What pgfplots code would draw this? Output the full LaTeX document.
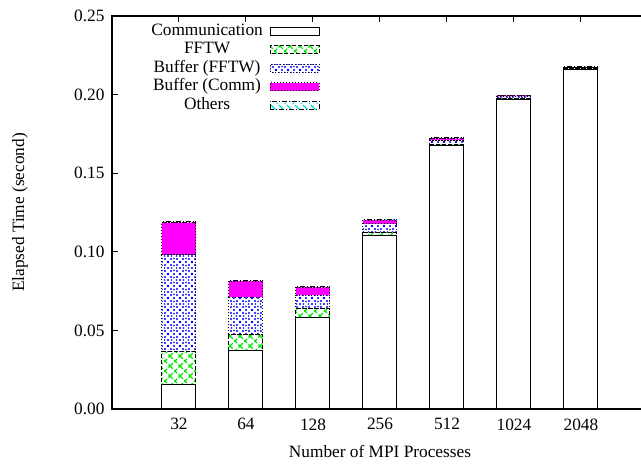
\documentclass[border=0pt]{standalone}
\usepackage{fontspec}
\setmainfont{Liberation Serif}
\usepackage{pgfplots}
\pgfplotsset{compat=1.18}
\usetikzlibrary{patterns}

\pgfdeclarepatternformonly{bigx}{\pgfqpoint{-1pt}{-1pt}}{\pgfqpoint{11pt}{11pt}}{\pgfqpoint{10pt}{10pt}}{%
  \pgfsetlinewidth{1.2pt}%
  \pgfpathmoveto{\pgfqpoint{0pt}{0pt}}\pgfpathlineto{\pgfqpoint{10pt}{10pt}}%
  \pgfpathmoveto{\pgfqpoint{0pt}{10pt}}\pgfpathlineto{\pgfqpoint{10pt}{0pt}}%
  \pgfusepath{stroke}}

\pgfdeclarepatternformonly{bluediamond}{\pgfqpoint{-1.5pt}{-1.5pt}}{\pgfqpoint{13.5pt}{13.5pt}}{\pgfqpoint{12pt}{12pt}}{%
  \pgfpathcircle{\pgfqpoint{0pt}{0pt}}{1.1pt}%
  \pgfpathcircle{\pgfqpoint{3pt}{3pt}}{1.1pt}%
  \pgfpathcircle{\pgfqpoint{9pt}{9pt}}{1.1pt}%
  \pgfpathcircle{\pgfqpoint{12pt}{12pt}}{1.1pt}%
  \pgfpathcircle{\pgfqpoint{0pt}{12pt}}{1.1pt}%
  \pgfpathcircle{\pgfqpoint{3pt}{9pt}}{1.1pt}%
  \pgfpathcircle{\pgfqpoint{9pt}{3pt}}{1.1pt}%
  \pgfpathcircle{\pgfqpoint{12pt}{0pt}}{1.1pt}%
  \pgfpathcircle{\pgfqpoint{6pt}{0pt}}{0.8pt}%
  \pgfpathcircle{\pgfqpoint{0pt}{6pt}}{0.8pt}%
  \pgfpathcircle{\pgfqpoint{12pt}{6pt}}{0.8pt}%
  \pgfpathcircle{\pgfqpoint{6pt}{12pt}}{0.8pt}%
  \pgfpathcircle{\pgfqpoint{6pt}{8.5pt}}{0.9pt}%
  \pgfpathcircle{\pgfqpoint{6pt}{3.5pt}}{0.9pt}%
  \pgfpathcircle{\pgfqpoint{3.5pt}{6pt}}{0.9pt}%
  \pgfpathcircle{\pgfqpoint{8.5pt}{6pt}}{0.9pt}%
  \pgfusepath{fill}}

\pgfdeclarepatternformonly{nwl}{\pgfqpoint{-1pt}{-1pt}}{\pgfqpoint{9pt}{9pt}}{\pgfqpoint{8pt}{8pt}}{%
  \pgfsetlinewidth{1.2pt}%
  \pgfpathmoveto{\pgfqpoint{0pt}{8pt}}\pgfpathlineto{\pgfqpoint{8pt}{0pt}}%
  \pgfusepath{stroke}}

\definecolor{mgreen}{RGB}{0,230,0}
\definecolor{mblue}{RGB}{0,0,255}
\definecolor{mmag}{RGB}{255,0,255}
\definecolor{mcyan}{RGB}{0,220,220}

\pgfplotsset{mylegend/.style={legend image code/.code={\draw[##1] (0pt,-4pt) rectangle (49pt,4pt);}}}

\begin{document}
\begin{tikzpicture}
\begin{axis}[name=ax, at={(0,0)}, anchor=south west,
  scale only axis, width=536pt, height=393pt,
  xmin=0, xmax=8, ymin=0, ymax=0.25,
  ybar stacked, bar width=34pt,
  xtick={1,2,3,4,5,6,7},
  xticklabels={32,64,128,256,512,1024,2048},
  ytick={0,0.05,0.1,0.15,0.2,0.25},
  yticklabel style={/pgf/number format/fixed, /pgf/number format/fixed zerofill, /pgf/number format/precision=2},
  /pgf/number format/assume math mode=true,
  xticklabel style={yshift=-6pt},
  yticklabel style={xshift=-4pt},
  tick align=inside, major tick length=6pt,
  tick style={black, line width=1pt},
  axis line style={line width=1.3pt},
  font=\fontsize{17.3}{20}\selectfont,
  xlabel={Number of MPI Processes},
  ylabel={Elapsed Time (second)},
  every axis x label/.style={at={(axis description cs:0.5,0)}, anchor=center, yshift=-42pt},
  every axis y label/.style={at={(axis description cs:-0.1716,0.5)}, anchor=center, rotate=90},
  legend plot pos=right,
  legend style={draw=none, fill=none, at={(axis description cs:0.3937,0.99)}, anchor=north east,
    font=\fontsize{17.3}{20}\selectfont, cells={anchor=center}, row sep=0pt, column sep=6pt,
    nodes={inner sep=1pt, text height=12pt, text depth=4.5pt}},
]
\addplot[mylegend, fill=white, draw=black, line width=1pt] coordinates
  {(1,0.0157) (2,0.0369) (3,0.0583) (4,0.1102) (5,0.1675) (6,0.1970) (7,0.2158)};
\addplot[mylegend, draw=black, line width=1pt, dash pattern=on 4pt off 2pt, pattern=bigx, pattern color=mgreen] coordinates
  {(1,0.0206) (2,0.0102) (3,0.0055) (4,0.0022) (5,0.0010) (6,0.0007) (7,0.0005)};
\addplot[mylegend, draw=black, line width=1pt, dash pattern=on 1pt off 2pt, pattern=bluediamond, pattern color=mblue] coordinates
  {(1,0.0617) (2,0.0240) (3,0.0087) (4,0.0053) (5,0.0025) (6,0.0012) (7,0.0009)};
\addplot[mylegend, draw=black, line width=1pt, dash pattern=on 1pt off 2pt, fill=mmag] coordinates
  {(1,0.0205) (2,0.0103) (3,0.0049) (4,0.0025) (5,0.0010) (6,0.0005) (7,0.0003)};
\addplot[mylegend, draw=black, line width=1pt, dash pattern=on 5pt off 2pt on 1pt off 2pt, pattern=nwl, pattern color=mcyan] coordinates
  {(1,0.0005) (2,0.0006) (3,0.0004) (4,0.0006) (5,0.0006) (6,0.0003) (7,0.0003)};
\legend{Communication, FFTW, Buffer (FFTW), Buffer (Comm), Others}
\end{axis}
\pgfresetboundingbox
\useasboundingbox (ax.south west) ++(-112pt,-57pt) rectangle ++(641pt,466pt);
\end{tikzpicture}
\end{document}
